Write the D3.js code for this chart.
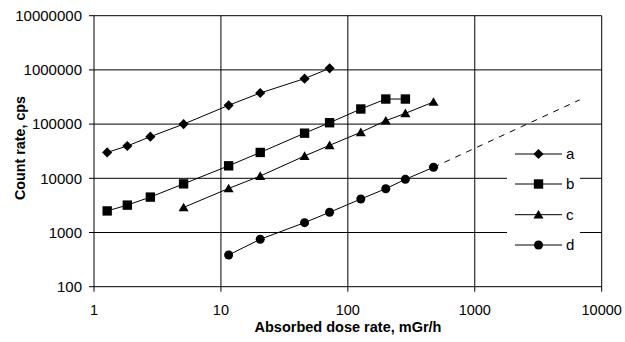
<!DOCTYPE html>
<html><head><meta charset="utf-8">
<script src="https://cdn.jsdelivr.net/npm/d3@7"></script>
<style>body{margin:0;background:#fff}svg{display:block}text{font-family:"Liberation Sans",Arial,sans-serif}</style>
</head><body><svg id="c" width="625" height="342"></svg>
<script>
const xA = [1.27,1.83,2.78,5.08,11.5,20.4,45.6,71.8];
const yA = [30000,39500,58600,100000,222000,375000,690000,1070000];
const xB = [1.27,1.83,2.78,5.08,11.5,20.4,45.6,71.8,126.5,199,284];
const yB = [2500,3200,4500,7900,17000,30000,68000,106000,190000,290000,290000];
const xC = [5.08,11.5,20.4,45.6,71.8,126.5,199,284,473];
const yC = [2900,6500,11000,25800,40600,70600,115600,158000,256000];
const xD = [11.5,20.4,45.6,71.8,126.5,199,284,473];
const yD = [385,750,1520,2360,4150,6430,9570,15950];
const xDash = [473,6700];
const yDash = [15950,280000];
const xTicks = [1,10,100,1000,10000];
const yTicks = [100,1000,10000,100000,1000000,10000000];
const seriesNames = ["a","b","c","d"];
const markers = [d3.symbolDiamond2, d3.symbolSquare, d3.symbolTriangle2, d3.symbolCircle];
const markerSizes = [66, 88, 72, 64];

const svg = d3.select("#c");
const L=94, R=601.7, T=15.7, B=286.7;
const x = d3.scaleLog().domain([1,10000]).range([L,R]);
const y = d3.scaleLog().domain([100,10000000]).range([B,T]);

// gridlines
const g = svg.append("g");
g.selectAll("line.h").data(yTicks).join("line")
  .attr("x1",L-5).attr("x2",R).attr("y1",d=>y(d)).attr("y2",d=>y(d))
  .attr("stroke","#000").attr("stroke-width",1);
g.selectAll("line.v").data(xTicks).join("line")
  .attr("x1",d=>x(d)).attr("x2",d=>x(d)).attr("y1",T).attr("y2",B+5)
  .attr("stroke","#000").attr("stroke-width",1);

// tick labels
svg.append("g").selectAll("text").data(yTicks).join("text")
  .attr("x",82).attr("y",d=>y(d)).attr("dy","0.35em").attr("text-anchor","end")
  .attr("font-size",15).text(d=>d3.format("d")(d));
svg.append("g").selectAll("text").data(xTicks).join("text")
  .attr("x",d=>x(d)).attr("y",315).attr("text-anchor","middle")
  .attr("font-size",14.5).text(d=>d3.format("d")(d));

// axis titles
svg.append("text").attr("x",348).attr("y",332).attr("text-anchor","middle")
  .attr("font-size",14.5).attr("font-weight","bold").text("Absorbed dose rate, mGr/h");
svg.append("text").attr("transform","translate(25,148) rotate(-90)").attr("text-anchor","middle")
  .attr("font-size",14.3).attr("font-weight","bold").text("Count rate, cps");

// dashed extension
svg.append("line").attr("x1",x(xDash[0])).attr("y1",y(yDash[0])).attr("x2",x(xDash[1])).attr("y2",y(yDash[1]))
  .attr("stroke","#000").attr("stroke-width",1).attr("stroke-dasharray","6,6");

const data = [[xA,yA],[xB,yB],[xC,yC],[xD,yD]];
const line = d3.line().x(d=>x(d[0])).y(d=>y(d[1]));
data.forEach(([xs,ys],i)=>{
  const pts = xs.map((v,j)=>[v,ys[j]]);
  svg.append("path").attr("d",line(pts)).attr("fill","none").attr("stroke","#000").attr("stroke-width",1);
  svg.append("g").selectAll("path").data(pts).join("path")
    .attr("d",d3.symbol(markers[i],markerSizes[i]))
    .attr("transform",d=>`translate(${x(d[0])},${y(d[1])+(i===2?1:0)})`)
    .attr("fill","#000");
});

// legend
const lg = svg.append("g");
lg.append("rect").attr("x",507).attr("y",138).attr("width",73).attr("height",124).attr("fill","#fff");
const ly = [154,184,214.7,245];
seriesNames.forEach((n,i)=>{
  lg.append("line").attr("x1",515).attr("x2",562).attr("y1",ly[i]).attr("y2",ly[i]).attr("stroke","#000");
  lg.append("path").attr("d",d3.symbol(markers[i],markerSizes[i])).attr("transform",`translate(538.5,${ly[i]+(i===2?1:0)})`).attr("fill","#000");
  lg.append("text").attr("x",566).attr("y",ly[i]).attr("dy","0.35em").attr("font-size",15).text(n);
});
</script></body></html>
